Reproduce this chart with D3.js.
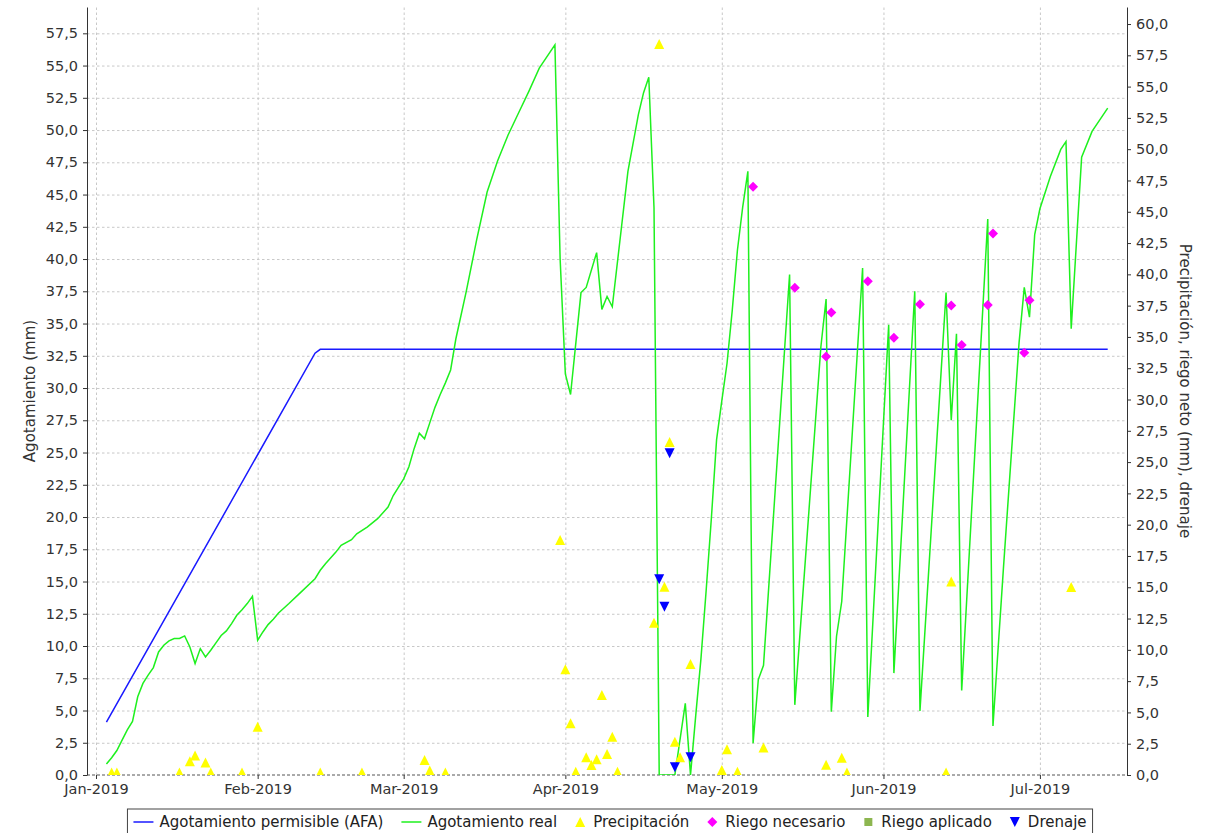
<!DOCTYPE html>
<html>
<head>
<meta charset="utf-8">
<script src="https://cdn.jsdelivr.net/npm/d3@7"></script>
<style>
body { margin: 0; background: #fff; }
svg { display: block; font-family: "DejaVu Sans", sans-serif; }
</style>
</head>
<body>
<svg></svg>
<script>
const width = 1208;
const height = 833;
const plotLeft = 87, plotRight = 1127, plotTop = 7, plotBottom = 775;

const parseDate = d3.utcParse("%Y-%m-%d");

// Agotamiento permisible (AFA)
const afaDates = ["2019-01-03", "2019-02-12", "2019-02-13", "2019-07-14"];
const afaValues = [4.1, 32.7, 33.0, 33.0];

// Agotamiento real
const realDates = [
    "2019-01-03", "2019-01-04", "2019-01-05", "2019-01-06", "2019-01-07", "2019-01-08", "2019-01-09", "2019-01-10",
    "2019-01-11", "2019-01-12", "2019-01-13", "2019-01-14", "2019-01-15", "2019-01-16", "2019-01-17", "2019-01-18",
    "2019-01-19", "2019-01-20", "2019-01-21", "2019-01-22", "2019-01-23", "2019-01-24", "2019-01-25", "2019-01-26",
    "2019-01-27", "2019-01-28", "2019-01-29", "2019-01-30", "2019-01-31", "2019-02-01", "2019-02-02", "2019-02-03",
    "2019-02-04", "2019-02-05", "2019-02-07", "2019-02-09", "2019-02-12", "2019-02-13", "2019-02-14", "2019-02-16",
    "2019-02-17", "2019-02-19", "2019-02-20", "2019-02-22", "2019-02-24", "2019-02-26", "2019-02-27", "2019-03-01",
    "2019-03-02", "2019-03-03", "2019-03-04", "2019-03-05", "2019-03-06", "2019-03-07", "2019-03-08", "2019-03-09",
    "2019-03-10", "2019-03-11", "2019-03-13", "2019-03-15", "2019-03-17", "2019-03-19", "2019-03-21", "2019-03-23",
    "2019-03-25", "2019-03-27", "2019-03-30", "2019-03-31", "2019-04-01", "2019-04-02", "2019-04-04", "2019-04-05",
    "2019-04-07", "2019-04-08", "2019-04-09", "2019-04-10", "2019-04-13", "2019-04-15", "2019-04-16", "2019-04-17",
    "2019-04-18", "2019-04-19", "2019-04-22", "2019-04-24", "2019-04-25", "2019-04-26", "2019-04-27", "2019-04-28",
    "2019-04-29", "2019-04-30", "2019-05-01", "2019-05-02", "2019-05-03", "2019-05-04", "2019-05-05", "2019-05-06",
    "2019-05-07", "2019-05-08", "2019-05-09", "2019-05-14", "2019-05-15", "2019-05-20", "2019-05-21", "2019-05-22",
    "2019-05-23", "2019-05-24", "2019-05-28", "2019-05-29", "2019-06-02", "2019-06-03", "2019-06-07", "2019-06-08",
    "2019-06-13", "2019-06-14", "2019-06-15", "2019-06-16", "2019-06-21", "2019-06-22", "2019-06-24", "2019-06-27",
    "2019-06-28", "2019-06-29", "2019-06-30", "2019-07-01", "2019-07-03", "2019-07-05", "2019-07-06", "2019-07-07",
    "2019-07-09", "2019-07-11", "2019-07-14"
];
const realValues = [
    0.85, 1.34, 1.9, 2.7, 3.5, 4.15, 6.06, 7.1,
    7.74, 8.33, 9.54, 10.06, 10.4, 10.58, 10.58, 10.78,
    9.93, 8.64, 9.8, 9.16, 9.67, 10.24, 10.81, 11.17,
    11.74, 12.38, 12.82, 13.29, 13.85, 10.45, 11.09, 11.66,
    12.07, 12.56, 13.29, 14.06, 15.22, 15.87, 16.38, 17.28,
    17.8, 18.24, 18.7, 19.22, 19.87, 20.77, 21.67, 22.96,
    23.9, 25.3, 26.5, 26.06, 27.3, 28.5, 29.5, 30.4,
    31.4, 33.8, 37.5, 41.5, 45.2, 47.6, 49.6, 51.3,
    53.0, 54.8, 56.6, 40.0, 31.1, 29.5, 37.4, 37.8,
    40.5, 36.1, 37.1, 36.3, 46.8, 51.2, 52.9, 54.1,
    44.0, 0, 0, 5.55, 0, 4.6, 9.0, 14.3,
    19.9, 26.0, 29.0, 31.9, 36.0, 40.7, 44.0, 46.8,
    2.47, 7.4, 8.5, 38.8, 5.44, 33.2, 36.9, 4.9,
    10.76, 13.45, 39.3, 4.5, 34.9, 7.9, 37.5, 4.97,
    37.4, 27.5, 34.2, 6.55, 43.1, 3.8, 16.0, 33.5,
    37.8, 35.5, 41.9, 43.9, 46.4, 48.5, 49.1, 34.6,
    47.9, 49.9, 51.7
];

// Precipitación (eje derecho)
const precipDates = [
    "2019-01-04", "2019-01-05", "2019-01-17", "2019-01-19", "2019-01-20", "2019-01-22", "2019-01-23", "2019-01-29",
    "2019-02-01", "2019-02-13", "2019-02-21", "2019-03-05", "2019-03-06", "2019-03-09", "2019-03-31", "2019-04-01",
    "2019-04-02", "2019-04-03", "2019-04-05", "2019-04-06", "2019-04-07", "2019-04-08", "2019-04-09", "2019-04-10",
    "2019-04-11", "2019-04-18", "2019-04-19", "2019-04-20", "2019-04-21", "2019-04-22", "2019-04-23", "2019-04-25",
    "2019-05-01", "2019-05-02", "2019-05-04", "2019-05-09", "2019-05-21", "2019-05-24", "2019-05-25", "2019-06-13",
    "2019-06-14", "2019-07-07"
];
const precipValues = [
    0.2, 0.2, 0.2, 1.1, 1.55, 1.0, 0.2, 0.2,
    3.86, 0.2, 0.2, 1.2, 0.35, 0.2, 18.77, 8.44,
    4.13, 0.26, 1.41, 0.8, 1.25, 6.39, 1.68, 3.06,
    0.26, 12.17, 58.4, 15.04, 26.6, 2.66, 1.41, 8.87,
    0.4, 2.05, 0.26, 2.2, 0.81, 1.37, 0.2, 0.2,
    15.45, 15.03
];

// Riego necesario (eje derecho)
const riegoDates = ["2019-05-07", "2019-05-15", "2019-05-21", "2019-05-22", "2019-05-29", "2019-06-03", "2019-06-08",
    "2019-06-14", "2019-06-16", "2019-06-21", "2019-06-22", "2019-06-28", "2019-06-29"];
const riegoValues = [47.0, 38.93, 33.44, 36.96, 39.45, 34.94, 37.62, 37.52, 34.35, 37.56, 43.27, 33.73, 37.94];

// Riego aplicado (sin datos)
const aplicadoDates = [];
const aplicadoValues = [];

// Drenaje (eje derecho)
const drenajeDates = ["2019-04-19", "2019-04-20", "2019-04-21", "2019-04-22", "2019-04-25"];
const drenajeValues = [15.63, 13.44, 25.7, 0.61, 1.41];

const seriesNames = ["Agotamiento permisible (AFA)", "Agotamiento real", "Precipitación", "Riego necesario", "Riego aplicado", "Drenaje"];
const monthTicks = ["2019-01-01", "2019-02-01", "2019-03-01", "2019-04-01", "2019-05-01", "2019-06-01", "2019-07-01"];
const leftTicks = d3.range(0, 57.6, 2.5);
const rightTicks = d3.range(0, 60.1, 2.5);
const xDomain = ["2018-12-30T06:35:00Z", "2019-07-17T16:48:00Z"];
const leftMax = 59.54;
const rightMax = 61.36;

let svg = d3.select("svg")
    .attr("width", width)
    .attr("height", height);

const x = d3.scaleUtc()
    .domain(xDomain.map(d => d3.isoParse(d)))
    .range([plotLeft, plotRight]);
const yLeft = d3.scaleLinear().domain([0, leftMax]).range([plotBottom, plotTop]);
const yRight = d3.scaleLinear().domain([0, rightMax]).range([plotBottom, plotTop]);

const comma = d3.formatLocale({decimal: ",", thousands: ".", grouping: [3], currency: ["", ""]}).format(".1f");

function zip(dates, values) {
    return dates.map((d, i) => ({date: parseDate(d), value: values[i]}));
}

// rejilla
svg.append("g")
    .attr("transform", `translate(${plotLeft},0)`)
    .call(d3.axisLeft(yLeft).tickValues(leftTicks.slice(1)).tickSize(-(plotRight - plotLeft)).tickFormat(""))
    .call(g => g.select(".domain").remove())
    .selectAll("line")
    .attr("stroke", "#c8c8c8")
    .attr("stroke-dasharray", "2.5,2.5");

svg.append("g")
    .attr("transform", `translate(0,${plotBottom})`)
    .call(d3.axisBottom(x).tickValues(monthTicks.map(parseDate)).tickSize(-(plotBottom - plotTop)).tickFormat(""))
    .call(g => g.select(".domain").remove())
    .selectAll("line")
    .attr("stroke", "#c8c8c8")
    .attr("stroke-dasharray", "2.5,2.5");

// linea base en cero
svg.append("line")
    .attr("x1", plotLeft).attr("x2", plotRight)
    .attr("y1", yLeft(0)).attr("y2", yLeft(0))
    .attr("stroke", "#555")
    .attr("stroke-dasharray", "3,2");

// ejes
function styleAxis(g) {
    g.attr("font-family", "DejaVu Sans, sans-serif").attr("font-size", 14.5);
    g.selectAll("text").attr("fill", "#333");
    g.selectAll("line, path").attr("stroke", "#333");
}

svg.append("g")
    .attr("transform", `translate(${plotLeft},0)`)
    .call(d3.axisLeft(yLeft).tickValues(leftTicks).tickFormat(comma).tickSize(4).tickPadding(5).tickSizeOuter(0))
    .call(styleAxis);

svg.append("g")
    .attr("transform", `translate(${plotRight},0)`)
    .call(d3.axisRight(yRight).tickValues(rightTicks).tickFormat(comma).tickSize(4).tickPadding(5).tickSizeOuter(0))
    .call(styleAxis);

svg.append("g")
    .attr("transform", `translate(0,${plotBottom})`)
    .call(d3.axisBottom(x).tickValues(monthTicks.map(parseDate)).tickFormat(d3.utcFormat("%b-%Y")).tickSize(4).tickPadding(5))
    .call(g => g.select(".domain").remove())
    .call(styleAxis);

svg.append("text")
    .attr("transform", `translate(35,${(plotTop + plotBottom) / 2}) rotate(-90)`)
    .attr("text-anchor", "middle")
    .attr("font-size", 15)
    .attr("fill", "#333")
    .text("Agotamiento (mm)");

svg.append("text")
    .attr("transform", `translate(1180,${(plotTop + plotBottom) / 2}) rotate(90)`)
    .attr("text-anchor", "middle")
    .attr("font-size", 15)
    .attr("fill", "#333")
    .text("Precipitación, riego neto (mm), drenaje");

// area del grafico
svg.append("clipPath").attr("id", "plotClip")
    .append("rect")
    .attr("x", plotLeft).attr("y", plotTop)
    .attr("width", plotRight - plotLeft).attr("height", plotBottom - plotTop);

const plot = svg.append("g").attr("clip-path", "url(#plotClip)");

const lineLeft = d3.line()
    .x(d => x(d.date))
    .y(d => yLeft(d.value));

plot.append("path")
    .datum(zip(afaDates, afaValues))
    .attr("d", lineLeft)
    .attr("fill", "none")
    .style("stroke", "#1a1aff")
    .style("stroke-width", "1.5");

plot.append("path")
    .datum(zip(realDates, realValues))
    .attr("d", lineLeft)
    .attr("fill", "none")
    .style("stroke", "#1ef01e")
    .style("stroke-width", "1.5");

const shapes = {
    up: "M0,-5L5,5L-5,5Z",
    down: "M0,5L5,-5L-5,-5Z",
    diamond: "M0,-5L5,0L0,5L-5,0Z",
    square: "M-4,-4L4,-4L4,4L-4,4Z"
};

function drawMarkers(data, shape, color) {
    plot.append("g")
        .selectAll("path")
        .data(data)
        .enter()
        .append("path")
        .attr("transform", d => `translate(${x(d.date)},${yRight(d.value)})`)
        .attr("d", shapes[shape])
        .attr("fill", color);
}

drawMarkers(zip(precipDates, precipValues), "up", "#ffff00");
drawMarkers(zip(riegoDates, riegoValues), "diamond", "#ff00ff");
drawMarkers(zip(aplicadoDates, aplicadoValues), "square", "#8db650");
drawMarkers(zip(drenajeDates, drenajeValues), "down", "#0000ff");

// leyenda
const legendKinds = [
    {kind: "line", color: "#1a1aff"},
    {kind: "line", color: "#1ef01e"},
    {kind: "up", color: "#ffff00"},
    {kind: "diamond", color: "#ff00ff"},
    {kind: "square", color: "#8db650"},
    {kind: "down", color: "#0000ff"}
];

const legend = svg.append("g");
const legendBox = legend.append("rect")
    .attr("fill", "white")
    .attr("stroke", "#444");

const legendY = 822;
const itemGap = 18;
let cursor = 0;
const items = legend.append("g");
seriesNames.forEach((name, i) => {
    const item = items.append("g").attr("transform", `translate(${cursor},0)`);
    const k = legendKinds[i];
    let symW, textGap;
    if (k.kind === "line") {
        symW = 20;
        textGap = 6;
        item.append("line")
            .attr("x1", 0).attr("x2", symW)
            .attr("y1", legendY).attr("y2", legendY)
            .attr("stroke", k.color)
            .attr("stroke-width", 1.5);
    } else {
        symW = 10;
        textGap = 8;
        item.append("path")
            .attr("transform", `translate(5,${legendY})`)
            .attr("d", shapes[k.kind])
            .attr("fill", k.color);
    }
    const t = item.append("text")
        .attr("x", symW + textGap)
        .attr("y", legendY)
        .attr("dy", "0.35em")
        .attr("font-size", 15)
        .attr("fill", "#222")
        .text(name);
    cursor += symW + textGap + t.node().getComputedTextLength() + itemGap;
});
cursor -= itemGap;
const legendLeft = 610 - cursor / 2;
items.attr("transform", `translate(${legendLeft},0)`);
legendBox
    .attr("x", legendLeft - 6)
    .attr("y", 809)
    .attr("width", cursor + 12)
    .attr("height", 40);
</script>
</body>
</html>
